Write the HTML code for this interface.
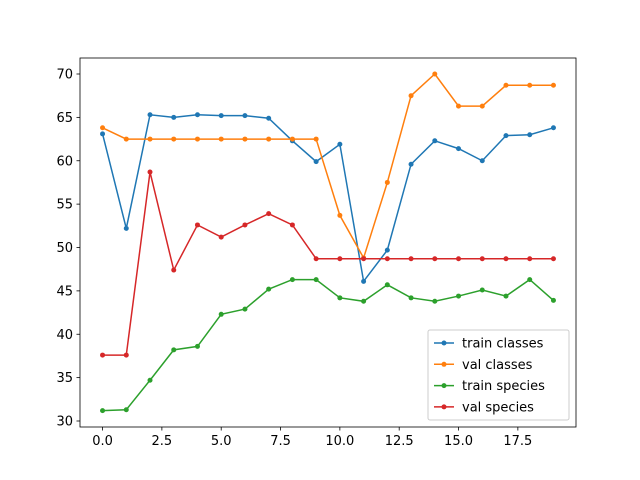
<!DOCTYPE html>
<html><head><meta charset="utf-8"><style>
body{margin:0;background:#fff}
svg{display:block;font-family:"DejaVu Sans","Liberation Sans",sans-serif}
</style></head><body>
<svg id="chart" width="640" height="480" viewBox="0 0 640 480"></svg>
<script>
const epochs=[0,1,2,3,4,5,6,7,8,9,10,11,12,13,14,15,16,17,18,19];
const trainClasses=[63.1,52.2,65.3,65.0,65.3,65.2,65.2,64.9,62.3,59.9,61.9,46.1,49.7,59.6,62.3,61.4,60.0,62.9,63.0,63.8];
const valClasses=[63.8,62.5,62.5,62.5,62.5,62.5,62.5,62.5,62.5,62.5,53.7,48.8,57.5,67.5,70.0,66.3,66.3,68.7,68.7,68.7];
const trainSpecies=[31.2,31.3,34.7,38.2,38.6,42.3,42.9,45.2,46.3,46.3,44.2,43.8,45.7,44.2,43.8,44.4,45.1,44.4,46.3,43.9];
const valSpecies=[37.6,37.6,58.7,47.4,52.6,51.2,52.6,53.9,52.6,48.7,48.7,48.7,48.7,48.7,48.7,48.7,48.7,48.7,48.7,48.7];
const xTicks=[0,2.5,5,7.5,10,12.5,15,17.5];
const xTickLabels=["0.0","2.5","5.0","7.5","10.0","12.5","15.0","17.5"];
const yTicks=[30,35,40,45,50,55,60,65,70];
const seriesNames=["train classes","val classes","train species","val species"];
const seriesColors=["#1f77b4","#ff7f0e","#2ca02c","#d62728"];
const seriesData=[trainClasses,valClasses,trainSpecies,valSpecies];

const L=80,R=576,T=58,B=427;
const xs=v=>L+(v+0.95)*(R-L)/20.9;
const ys=v=>421-(v-30)*8.675;
const NS="http://www.w3.org/2000/svg";
const svg=document.getElementById('chart');
function mk(tag,attrs,parent){const e=document.createElementNS(NS,tag);for(const k in attrs)e.setAttribute(k,attrs[k]);(parent||svg).appendChild(e);return e;}

seriesData.forEach((d,i)=>{
  const g=mk('g',{});
  
  
  mk('polyline',{points:d.map((v,j)=>xs(epochs[j])+','+ys(v)).join(' '),fill:'none',stroke:seriesColors[i],'stroke-width':1.5},g);
  d.forEach((v,j)=>{const c=mk('circle',{cx:xs(epochs[j]),cy:ys(v),r:2.5,fill:seriesColors[i]},g);
    
    });
});
const frame=mk('rect',{x:L,y:T,width:R-L,height:B-T,fill:'none',stroke:'#000','stroke-width':0.8});


xTicks.forEach((t,i)=>{const x=xs(t);mk('line',{x1:x,x2:x,y1:B,y2:B+3.5,stroke:'#000','stroke-width':0.8});
  const tx=mk('text',{x:x,y:B+18,'font-size':13,'text-anchor':'middle'});tx.textContent=xTickLabels[i];
  
  });
yTicks.forEach(t=>{const y=ys(t);mk('line',{x1:L-3.5,x2:L,y1:y,y2:y,stroke:'#000','stroke-width':0.8});
  const tx=mk('text',{x:L-7,y:y+4.5,'font-size':13,'text-anchor':'end'});tx.textContent=t;
  
  });
const lg=mk('g',{});


mk('rect',{x:428,y:330,width:141,height:90,rx:2,fill:'#fff','fill-opacity':0.8,stroke:'#ccc'},lg);
seriesNames.forEach((n,i)=>{const y=343+i*21.3;
  const e=mk('g',{},lg);
  
  
  mk('line',{x1:434,x2:454,y1:y,y2:y,stroke:seriesColors[i],'stroke-width':1.5},e);
  mk('circle',{cx:444,cy:y,r:2.5,fill:seriesColors[i]},e);
  const t=mk('text',{x:462,y:y+4.5,'font-size':13},e);t.textContent=n;});
</script>
</body></html>
